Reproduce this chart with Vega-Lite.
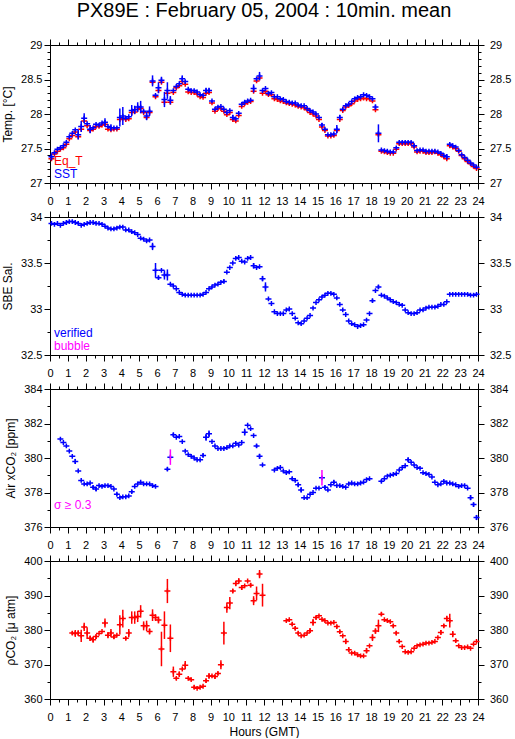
{
"$schema": "https://vega.github.io/schema/vega-lite/v6.json",
"padding": {"left": 0, "top": 1, "right": 0, "bottom": 0},
"bounds": "flush",
"spacing": 34,
"background": "#ffffff",
"resolve": {"scale": {"color": "independent"}, "legend": {"color": "independent"}},
"title": {"text": "PX89E : February 05, 2004 : 10min. mean", "fontSize": 20, "fontWeight": "normal", "font": "Liberation Sans", "color": "#000000", "anchor": "middle", "frame": "group", "offset": 16.7},
"config": {
  "font": "Liberation Sans",
  "view": {"stroke": "#000000", "strokeWidth": 1},
  "axis": {"domainColor": "#000000", "tickColor": "#000000", "labelColor": "#000000", "titleColor": "#000000", "grid": false, "labelFontSize": 11, "titleFontSize": 12, "titleFontWeight": "normal", "labelOverlap": false, "labelFlush": false, "labelBound": false, "domainWidth": 1, "tickWidth": 1, "labelFont": "Liberation Sans", "titleFont": "Liberation Sans"},
  "legend": {"labelFont": "Liberation Sans"}
},
"datasets": {
"p1": [
{"t":0.083,"s":27.38,"q":27.35,"e":0.05},{"t":0.25,"s":27.44,"q":27.42},{"t":0.417,"s":27.49,"q":27.46},{"t":0.583,"s":27.51,"q":27.49},{"t":0.75,"s":27.54,"q":27.51},{"t":0.917,"s":27.59,"q":27.56},
{"t":1.083,"s":27.67,"q":27.64},{"t":1.25,"s":27.72,"q":27.69},{"t":1.417,"s":27.77,"q":27.74},{"t":1.583,"s":27.7,"q":27.67,"e":0.07},{"t":1.75,"s":27.82,"q":27.78,"e":0.08},{"t":1.917,"s":27.94,"q":27.9,"e":0.07},
{"t":2.083,"s":27.86,"q":27.83},{"t":2.25,"s":27.78,"q":27.76,"e":0.06},{"t":2.417,"s":27.8,"q":27.78},{"t":2.583,"s":27.85,"q":27.82},{"t":2.75,"s":27.84,"q":27.82},{"t":2.917,"s":27.87,"q":27.84},
{"t":3.083,"s":27.88,"q":27.85,"e":0.06},{"t":3.25,"s":27.82,"q":27.78},{"t":3.417,"s":27.8,"q":27.77,"e":0.05},{"t":3.583,"s":27.8,"q":27.78},{"t":3.75,"s":27.8,"q":27.78},{"t":3.917,"s":27.95,"q":27.92,"e":0.13},
{"t":4.083,"s":27.97,"q":27.94,"e":0.13},{"t":4.25,"s":27.94,"q":27.92},{"t":4.417,"s":27.96,"q":27.93},{"t":4.583,"s":28.05,"q":28.02,"e":0.08},{"t":4.75,"s":28.06,"q":28.03,"e":0.06},{"t":4.917,"s":28.1,"q":28.07,"e":0.07},
{"t":5.083,"s":28.1,"q":28.08,"e":0.09},{"t":5.25,"s":28.04,"q":28.02},{"t":5.417,"s":27.97,"q":27.95,"e":0.06},{"t":5.583,"s":28.04,"q":28.02,"e":0.07},{"t":5.75,"s":28.48,"q":28.46,"e":0.08},{"t":5.917,"s":28.27,"q":28.25},
{"t":6.083,"s":28.38,"q":28.34,"e":0.08},{"t":6.25,"s":28.49,"q":28.46,"e":0.05},{"t":6.417,"s":28.21,"q":28.17,"e":0.11},{"t":6.583,"s":28.34,"q":28.3,"e":0.12},{"t":6.75,"s":28.2,"q":28.17,"e":0.06},{"t":6.917,"s":28.34,"q":28.31},
{"t":7.083,"s":28.4,"q":28.38},{"t":7.25,"s":28.44,"q":28.41},{"t":7.417,"s":28.51,"q":28.47,"e":0.05},{"t":7.583,"s":28.47,"q":28.43},{"t":7.75,"s":28.36,"q":28.32},{"t":7.917,"s":28.34,"q":28.31},
{"t":8.083,"s":28.34,"q":28.31},{"t":8.25,"s":28.32,"q":28.29},{"t":8.417,"s":28.28,"q":28.25},{"t":8.583,"s":28.27,"q":28.24},{"t":8.75,"s":28.34,"q":28.3,"e":0.04},{"t":8.917,"s":28.34,"q":28.31,"e":0.04},
{"t":9.083,"s":28.19,"q":28.16},{"t":9.25,"s":28.07,"q":28.04},{"t":9.417,"s":28.1,"q":28.08},{"t":9.583,"s":28.11,"q":28.08},{"t":9.75,"s":28.07,"q":28.04},{"t":9.917,"s":28.02,"q":27.99},
{"t":10.083,"s":28.05,"q":28.02},{"t":10.25,"s":27.95,"q":27.92,"e":0.04},{"t":10.417,"s":27.93,"q":27.9},{"t":10.583,"s":28.01,"q":27.98},{"t":10.75,"s":28.14,"q":28.11},{"t":10.917,"s":28.17,"q":28.15},
{"t":11.083,"s":28.19,"q":28.17},{"t":11.25,"s":28.2,"q":28.18},{"t":11.417,"s":28.37,"q":28.33,"e":0.06},{"t":11.583,"s":28.51,"q":28.48},{"t":11.75,"s":28.55,"q":28.52,"e":0.06},{"t":11.917,"s":28.34,"q":28.3},
{"t":12.083,"s":28.37,"q":28.33},{"t":12.25,"s":28.3,"q":28.28},{"t":12.417,"s":28.31,"q":28.28},{"t":12.583,"s":28.25,"q":28.22},{"t":12.75,"s":28.25,"q":28.21},{"t":12.917,"s":28.22,"q":28.19},
{"t":13.083,"s":28.21,"q":28.18},{"t":13.25,"s":28.18,"q":28.16},{"t":13.417,"s":28.17,"q":28.15},{"t":13.583,"s":28.16,"q":28.14},{"t":13.75,"s":28.16,"q":28.13},{"t":13.917,"s":28.13,"q":28.11},
{"t":14.083,"s":28.12,"q":28.1},{"t":14.25,"s":28.12,"q":28.09},{"t":14.417,"s":28.08,"q":28.06},{"t":14.583,"s":28.05,"q":28.02},{"t":14.75,"s":28.03,"q":28.0},{"t":14.917,"s":28.0,"q":27.97},
{"t":15.083,"s":27.95,"q":27.92},{"t":15.25,"s":27.84,"q":27.81,"e":0.03},{"t":15.417,"s":27.78,"q":27.76},{"t":15.583,"s":27.7,"q":27.68},{"t":15.75,"s":27.7,"q":27.68},{"t":15.917,"s":27.71,"q":27.69},
{"t":16.083,"s":27.78,"q":27.76,"e":0.06},{"t":16.25,"s":27.95,"q":27.92,"e":0.04},{"t":16.417,"s":28.07,"q":28.05},{"t":16.583,"s":28.12,"q":28.1},{"t":16.75,"s":28.14,"q":28.12},{"t":16.917,"s":28.18,"q":28.15},
{"t":17.083,"s":28.22,"q":28.19},{"t":17.25,"s":28.24,"q":28.21},{"t":17.417,"s":28.25,"q":28.22},{"t":17.583,"s":28.28,"q":28.23},{"t":17.75,"s":28.27,"q":28.22},{"t":17.917,"s":28.25,"q":28.22},
{"t":18.083,"s":28.22,"q":28.19},{"t":18.25,"s":28.1,"q":28.06,"e":0.04},{"t":18.417,"s":27.72,"q":27.7,"e":0.13},{"t":18.583,"s":27.48,"q":27.46},{"t":18.75,"s":27.47,"q":27.45},{"t":18.917,"s":27.46,"q":27.44},
{"t":19.083,"s":27.45,"q":27.43},{"t":19.25,"s":27.45,"q":27.43},{"t":19.417,"s":27.51,"q":27.49},{"t":19.583,"s":27.59,"q":27.57},{"t":19.75,"s":27.59,"q":27.57},{"t":19.917,"s":27.59,"q":27.57},
{"t":20.083,"s":27.59,"q":27.57},{"t":20.25,"s":27.59,"q":27.57},{"t":20.417,"s":27.54,"q":27.52,"e":0.03},{"t":20.583,"s":27.47,"q":27.45},{"t":20.75,"s":27.48,"q":27.46},{"t":20.917,"s":27.48,"q":27.46},
{"t":21.083,"s":27.46,"q":27.44},{"t":21.25,"s":27.46,"q":27.44},{"t":21.417,"s":27.46,"q":27.44},{"t":21.583,"s":27.46,"q":27.45},{"t":21.75,"s":27.45,"q":27.43},{"t":21.917,"s":27.43,"q":27.41},
{"t":22.083,"s":27.4,"q":27.38},{"t":22.25,"s":27.38,"q":27.35,"e":0.04},{"t":22.417,"s":27.56,"q":27.54},{"t":22.583,"s":27.54,"q":27.52},{"t":22.75,"s":27.52,"q":27.5},{"t":22.917,"s":27.47,"q":27.46},
{"t":23.083,"s":27.41,"q":27.4},{"t":23.25,"s":27.37,"q":27.35},{"t":23.417,"s":27.33,"q":27.31},{"t":23.583,"s":27.29,"q":27.28},{"t":23.75,"s":27.26,"q":27.24},{"t":23.917,"s":27.23,"q":27.21}
],
"p2": [
{"t":0.083,"v":33.93},{"t":0.25,"v":33.92},{"t":0.417,"v":33.93},{"t":0.583,"v":33.91},{"t":0.75,"v":33.93},{"t":0.917,"v":33.94},
{"t":1.083,"v":33.95},{"t":1.25,"v":33.95},{"t":1.417,"v":33.94},{"t":1.583,"v":33.93},{"t":1.75,"v":33.91},{"t":1.917,"v":33.92},
{"t":2.083,"v":33.93},{"t":2.25,"v":33.94},{"t":2.417,"v":33.94},{"t":2.583,"v":33.93},{"t":2.75,"v":33.93},{"t":2.917,"v":33.92},
{"t":3.083,"v":33.9},{"t":3.25,"v":33.88},{"t":3.417,"v":33.87},{"t":3.583,"v":33.87},{"t":3.75,"v":33.88},{"t":3.917,"v":33.89},
{"t":4.083,"v":33.89},{"t":4.25,"v":33.86},{"t":4.417,"v":33.86},{"t":4.583,"v":33.84},{"t":4.75,"v":33.83},{"t":4.917,"v":33.81},
{"t":5.083,"v":33.77},{"t":5.25,"v":33.76},{"t":5.417,"v":33.74},{"t":5.583,"v":33.75},{"t":5.75,"v":33.68,"e":0.04},{"t":5.917,"v":33.42,"e":0.08},
{"t":6.083,"v":33.34,"e":0.02},{"t":6.25,"v":33.42},{"t":6.417,"v":33.37,"e":0.05},{"t":6.583,"v":33.37,"e":0.06},{"t":6.75,"v":33.27},{"t":6.917,"v":33.25},
{"t":7.083,"v":33.22},{"t":7.25,"v":33.18},{"t":7.417,"v":33.16},{"t":7.583,"v":33.15},{"t":7.75,"v":33.15},{"t":7.917,"v":33.15},
{"t":8.083,"v":33.15},{"t":8.25,"v":33.15},{"t":8.417,"v":33.15},{"t":8.583,"v":33.16},{"t":8.75,"v":33.18},{"t":8.917,"v":33.22},
{"t":9.083,"v":33.24},{"t":9.25,"v":33.26},{"t":9.417,"v":33.27},{"t":9.583,"v":33.29},{"t":9.75,"v":33.3,"e":0.02},{"t":9.917,"v":33.4},
{"t":10.083,"v":33.45},{"t":10.25,"v":33.5},{"t":10.417,"v":33.55},{"t":10.583,"v":33.56},{"t":10.75,"v":33.52},{"t":10.917,"v":33.51},
{"t":11.083,"v":33.55},{"t":11.25,"v":33.56},{"t":11.417,"v":33.47,"e":0.03},{"t":11.583,"v":33.45},{"t":11.75,"v":33.46},{"t":11.917,"v":33.33,"e":0.03},
{"t":12.083,"v":33.24,"e":0.05},{"t":12.25,"v":33.11},{"t":12.417,"v":33.06},{"t":12.583,"v":32.97},{"t":12.75,"v":32.95},{"t":12.917,"v":32.95},
{"t":13.083,"v":32.95},{"t":13.25,"v":32.99},{"t":13.417,"v":33.0},{"t":13.583,"v":32.95},{"t":13.75,"v":32.9},{"t":13.917,"v":32.85},
{"t":14.083,"v":32.84},{"t":14.25,"v":32.87},{"t":14.417,"v":32.9},{"t":14.583,"v":32.93},{"t":14.75,"v":33.01},{"t":14.917,"v":33.07},
{"t":15.083,"v":33.1},{"t":15.25,"v":33.13},{"t":15.417,"v":33.15},{"t":15.583,"v":33.17},{"t":15.75,"v":33.17},{"t":15.917,"v":33.16},
{"t":16.083,"v":33.12},{"t":16.25,"v":33.05},{"t":16.417,"v":32.99},{"t":16.583,"v":32.94},{"t":16.75,"v":32.87},{"t":16.917,"v":32.84},
{"t":17.083,"v":32.83},{"t":17.25,"v":32.81},{"t":17.417,"v":32.82},{"t":17.583,"v":32.83},{"t":17.75,"v":32.88},{"t":17.917,"v":32.95},
{"t":18.083,"v":33.09,"e":0.02},{"t":18.25,"v":33.2},{"t":18.417,"v":33.24,"e":0.02},{"t":18.583,"v":33.15},{"t":18.75,"v":33.14},{"t":18.917,"v":33.12},
{"t":19.083,"v":33.1},{"t":19.25,"v":33.08},{"t":19.417,"v":33.07},{"t":19.583,"v":33.05},{"t":19.75,"v":33.04},{"t":19.917,"v":32.99},
{"t":20.083,"v":32.96},{"t":20.25,"v":32.95},{"t":20.417,"v":32.95},{"t":20.583,"v":32.96},{"t":20.75,"v":32.99},{"t":20.917,"v":32.99},
{"t":21.083,"v":33.01},{"t":21.25,"v":33.02},{"t":21.417,"v":33.02},{"t":21.583,"v":33.02},{"t":21.75,"v":33.03},{"t":21.917,"v":33.05},
{"t":22.083,"v":33.05},{"t":22.25,"v":33.08},{"t":22.417,"v":33.16},{"t":22.583,"v":33.16},{"t":22.75,"v":33.16},{"t":22.917,"v":33.16},
{"t":23.083,"v":33.16},{"t":23.25,"v":33.16},{"t":23.417,"v":33.16},{"t":23.583,"v":33.15},{"t":23.75,"v":33.15},{"t":23.917,"v":33.16}
],
"p3": [
{"t":0.583,"v":381.1},{"t":0.75,"v":380.9},{"t":0.917,"v":380.7},
{"t":1.083,"v":380.4},{"t":1.25,"v":380.1},{"t":1.417,"v":379.8,"e":0.15},{"t":1.583,"v":379.25},{"t":1.75,"v":378.7},{"t":1.917,"v":378.5},
{"t":2.083,"v":378.5},{"t":2.25,"v":378.55},{"t":2.417,"v":378.3,"e":0.1},{"t":2.583,"v":378.2,"e":0.12},{"t":2.75,"v":378.4},{"t":2.917,"v":378.35},
{"t":3.083,"v":378.4},{"t":3.25,"v":378.4},{"t":3.417,"v":378.35},{"t":3.583,"v":378.2},{"t":3.75,"v":377.9,"e":0.08},{"t":3.917,"v":377.7},
{"t":4.083,"v":377.75},{"t":4.25,"v":377.75},{"t":4.417,"v":377.8},{"t":4.583,"v":378.05,"e":0.1},{"t":4.75,"v":378.35},{"t":4.917,"v":378.5},
{"t":5.083,"v":378.6},{"t":5.25,"v":378.5},{"t":5.417,"v":378.5},{"t":5.583,"v":378.5},{"t":5.75,"v":378.4},{"t":5.917,"v":378.35},
{"t":6.583,"v":379.35,"e":0.1},{"t":6.75,"v":380.05,"e":0.45,"f":1},{"t":6.917,"v":381.35,"e":0.1},
{"t":7.083,"v":381.2},{"t":7.25,"v":381.25},{"t":7.417,"v":380.95},{"t":7.583,"v":380.4},{"t":7.75,"v":380.2},{"t":7.917,"v":380.1},
{"t":8.083,"v":380.0},{"t":8.25,"v":379.9},{"t":8.417,"v":379.9},{"t":8.583,"v":380.15,"e":0.1},{"t":8.75,"v":381.2,"e":0.2},{"t":8.917,"v":381.4,"e":0.2},
{"t":9.083,"v":380.95},{"t":9.25,"v":380.7},{"t":9.417,"v":380.55},{"t":9.583,"v":380.55},{"t":9.75,"v":380.55},{"t":9.917,"v":380.6},
{"t":10.083,"v":380.7},{"t":10.25,"v":380.7},{"t":10.417,"v":380.85},{"t":10.583,"v":380.75},{"t":10.75,"v":380.9},{"t":10.917,"v":381.5,"e":0.2},
{"t":11.083,"v":381.9},{"t":11.25,"v":381.7},{"t":11.417,"v":381.3},{"t":11.583,"v":380.7,"e":0.1},{"t":11.75,"v":380.1,"e":0.15},{"t":11.917,"v":379.6},
{"t":12.583,"v":379.3},{"t":12.75,"v":379.4},{"t":12.917,"v":379.45},
{"t":13.083,"v":379.25},{"t":13.25,"v":379.15},{"t":13.417,"v":379.2},{"t":13.583,"v":378.8,"e":0.08},{"t":13.75,"v":378.7},{"t":13.917,"v":378.45,"e":0.1},
{"t":14.083,"v":378.15,"e":0.15},{"t":14.25,"v":377.7},{"t":14.417,"v":377.7},{"t":14.583,"v":377.9},{"t":14.75,"v":378.0},{"t":14.917,"v":378.25},
{"t":15.083,"v":378.25},{"t":15.25,"v":378.85,"e":0.45,"f":1},{"t":15.417,"v":378.3,"e":0.1},{"t":15.583,"v":378.15},{"t":15.75,"v":378.45},{"t":15.917,"v":378.6,"e":0.1},
{"t":16.083,"v":378.4},{"t":16.25,"v":378.4},{"t":16.417,"v":378.35},{"t":16.583,"v":378.3},{"t":16.75,"v":378.5},{"t":16.917,"v":378.55},
{"t":17.083,"v":378.5},{"t":17.25,"v":378.5},{"t":17.417,"v":378.55},{"t":17.583,"v":378.6},{"t":17.75,"v":378.75},{"t":17.917,"v":378.8},
{"t":18.583,"v":378.65,"e":0.08},{"t":18.75,"v":378.8},{"t":18.917,"v":378.95},
{"t":19.083,"v":379.0},{"t":19.25,"v":379.05},{"t":19.417,"v":379.1},{"t":19.583,"v":379.3},{"t":19.75,"v":379.45},{"t":19.917,"v":379.55},
{"t":20.083,"v":379.9,"e":0.12},{"t":20.25,"v":379.75},{"t":20.417,"v":379.6},{"t":20.583,"v":379.45},{"t":20.75,"v":379.4},{"t":20.917,"v":379.15},
{"t":21.083,"v":379.1},{"t":21.25,"v":379.05},{"t":21.417,"v":378.9},{"t":21.583,"v":378.6},{"t":21.75,"v":378.45},{"t":21.917,"v":378.5},
{"t":22.083,"v":378.65},{"t":22.25,"v":378.55},{"t":22.417,"v":378.55},{"t":22.583,"v":378.5},{"t":22.75,"v":378.45},{"t":22.917,"v":378.35},
{"t":23.083,"v":378.4},{"t":23.25,"v":378.4},{"t":23.417,"v":378.25},{"t":23.583,"v":377.7,"e":0.15},{"t":23.75,"v":377.3,"e":0.12},{"t":23.917,"v":376.55,"e":0.15}
],
"p4": [
{"t":1.25,"v":379.1,"e":0.5},{"t":1.417,"v":379.0,"e":1.0},{"t":1.583,"v":379.1,"e":0.8},{"t":1.75,"v":378.3,"e":1.8},{"t":1.917,"v":380.9,"e":1.2},
{"t":2.083,"v":379.1,"e":1.7},{"t":2.25,"v":377.6,"e":0.8},{"t":2.417,"v":377.2,"e":0.9},{"t":2.583,"v":378.1,"e":0.7},{"t":2.75,"v":379.0},{"t":2.917,"v":379.6},
{"t":3.083,"v":382.0,"e":1.3},{"t":3.25,"v":378.5,"e":0.9},{"t":3.417,"v":379.1,"e":1.2},{"t":3.583,"v":378.0,"e":0.6},{"t":3.75,"v":378.5},{"t":3.917,"v":381.5,"e":2.8},
{"t":4.083,"v":383.3,"e":2.6},{"t":4.25,"v":377.6,"e":0.4},{"t":4.417,"v":379.1,"e":1.2},{"t":4.583,"v":383.6,"e":1.8},{"t":4.75,"v":383.6,"e":1.8},{"t":4.917,"v":383.9,"e":1.6},
{"t":5.083,"v":385.4,"e":1.8},{"t":5.25,"v":381.2,"e":1.3},{"t":5.417,"v":381.2,"e":1.5},{"t":5.583,"v":379.6,"e":0.9},{"t":5.75,"v":384.3,"e":1.7},{"t":5.917,"v":383.6,"e":1.0},
{"t":6.083,"v":382.9,"e":1.0},{"t":6.25,"v":374.5,"e":5.0},{"t":6.417,"v":381.4,"e":4.0},{"t":6.583,"v":391.3,"e":3.5},{"t":6.75,"v":377.6,"e":4.0},{"t":6.917,"v":367.9,"e":1.5},
{"t":7.083,"v":366.0,"e":0.4},{"t":7.25,"v":367.2,"e":0.8},{"t":7.417,"v":368.7},{"t":7.583,"v":369.8,"e":1.2},{"t":7.75,"v":366.0},{"t":7.917,"v":365.6},
{"t":8.083,"v":363.4,"e":0.5},{"t":8.25,"v":363.1},{"t":8.417,"v":363.4},{"t":8.583,"v":363.7},{"t":8.75,"v":365.3,"e":0.6},{"t":8.917,"v":366.7,"e":0.8},
{"t":9.083,"v":366.7},{"t":9.25,"v":366.5,"e":0.6},{"t":9.417,"v":367.4,"e":0.5},{"t":9.583,"v":369.9,"e":1.3},{"t":9.75,"v":379.1,"e":3.3},{"t":9.917,"v":386.5,"e":1.5},
{"t":10.083,"v":387.8,"e":1.8},{"t":10.25,"v":391.3,"e":0.5},{"t":10.417,"v":393.5,"e":0.8},{"t":10.583,"v":394.2,"e":0.8},{"t":10.75,"v":392.3,"e":0.7},{"t":10.917,"v":392.8},
{"t":11.083,"v":394.2},{"t":11.25,"v":393.0,"e":0.6},{"t":11.417,"v":388.5,"e":1.3},{"t":11.583,"v":390.6,"e":2.0},{"t":11.75,"v":396.2,"e":1.2},{"t":11.917,"v":390.1,"e":3.3},
{"t":13.25,"v":382.7},{"t":13.417,"v":383.0},{"t":13.583,"v":381.7,"e":0.5},{"t":13.75,"v":380.5,"e":0.5},{"t":13.917,"v":379.1,"e":0.5},
{"t":14.083,"v":378.3},{"t":14.25,"v":378.5},{"t":14.417,"v":379.1},{"t":14.583,"v":379.8,"e":0.7},{"t":14.75,"v":382.2,"e":1.0},{"t":14.917,"v":383.6,"e":0.5},
{"t":15.083,"v":384.1},{"t":15.25,"v":383.1},{"t":15.417,"v":382.7},{"t":15.583,"v":382.0},{"t":15.75,"v":382.0},{"t":15.917,"v":382.2},
{"t":16.083,"v":381.0,"e":0.5},{"t":16.25,"v":379.5,"e":0.5},{"t":16.417,"v":378.3},{"t":16.583,"v":376.7,"e":0.8},{"t":16.75,"v":374.3,"e":0.7},{"t":16.917,"v":373.3},
{"t":17.083,"v":373.3},{"t":17.25,"v":372.8},{"t":17.417,"v":372.5},{"t":17.583,"v":372.5},{"t":17.75,"v":374.0,"e":0.8},{"t":17.917,"v":375.4},
{"t":18.083,"v":377.8,"e":1.0},{"t":18.25,"v":379.7,"e":0.8},{"t":18.417,"v":381.2,"e":1.8},{"t":18.583,"v":384.6,"e":0.5},{"t":18.75,"v":383.0},{"t":18.917,"v":382.7},
{"t":19.083,"v":382.4},{"t":19.25,"v":381.2,"e":0.5},{"t":19.417,"v":379.1,"e":0.6},{"t":19.583,"v":376.7,"e":0.5},{"t":19.75,"v":375.2},{"t":19.917,"v":373.7},
{"t":20.083,"v":373.5},{"t":20.25,"v":373.7},{"t":20.417,"v":374.7},{"t":20.583,"v":375.4},{"t":20.75,"v":375.7},{"t":20.917,"v":375.9},
{"t":21.083,"v":376.2},{"t":21.25,"v":376.2},{"t":21.417,"v":376.4},{"t":21.583,"v":376.7},{"t":21.75,"v":377.8},{"t":21.917,"v":379.3,"e":0.7},
{"t":22.083,"v":381.2,"e":0.5},{"t":22.25,"v":383.3,"e":0.8},{"t":22.417,"v":382.7,"e":2.0},{"t":22.583,"v":378.8,"e":0.9},{"t":22.75,"v":376.9,"e":0.5},{"t":22.917,"v":375.4},
{"t":23.083,"v":374.9},{"t":23.25,"v":374.9},{"t":23.417,"v":375.1},{"t":23.583,"v":374.7},{"t":23.75,"v":375.9},{"t":23.917,"v":376.7}
]
},
"vconcat": [
{
 "width": 428, "height": 138,
 "data": {"name": "p1"},
 "resolve": {"axis": {"x": "independent", "y": "independent"}},
 "layer": [
  {"mark": {"type": "point", "shape": "M-1,0H1M0,-0.8V0.8", "size": 36, "filled": false, "strokeWidth": 1.5, "opacity": 1},
   "encoding": {
    "x": {"field": "t", "type": "quantitative", "scale": {"domain": [0, 24], "nice": false, "zero": false},
      "axis": {"orient": "bottom", "values": [0,0.5,1,1.5,2,2.5,3,3.5,4,4.5,5,5.5,6,6.5,7,7.5,8,8.5,9,9.5,10,10.5,11,11.5,12,12.5,13,13.5,14,14.5,15,15.5,16,16.5,17,17.5,18,18.5,19,19.5,20,20.5,21,21.5,22,22.5,23,23.5,24], "tickSize": {"condition": {"test": "datum.value % 1 === 0", "value": 6}, "value": 3}, "labelExpr": "datum.value % 1 === 0 ? datum.label : ''", "format": "~g", "labelPadding": 6.5, "title": null}},
    "y": {"field": "q", "type": "quantitative", "scale": {"domain": [27, 29], "nice": false, "zero": false},
      "axis": {"orient": "left", "values": [27,27.1,27.2,27.3,27.4,27.5,27.6,27.7,27.8,27.9,28,28.1,28.2,28.3,28.4,28.5,28.6,28.7,28.8,28.9,29], "tickSize": {"condition": {"test": "(datum.value*2) % 1 === 0", "value": 6}, "value": 3}, "labelExpr": "(datum.value*2) % 1 === 0 ? datum.label : ''", "format": "~g", "labelPadding": 2, "title": "Temp. [°C]", "titlePadding": 6.5}},
    "color": {"datum": "Eq_T", "scale": {"domain": ["Eq_T", "SST"], "range": ["#ff0000", "#0000ff"]},
      "legend": {"orient": "bottom-left", "offset": 3.5, "title": null, "padding": 0, "symbolSize": 0.01, "symbolStrokeWidth": 0.01, "symbolOpacity": 0, "labelOffset": -12, "labelFontSize": 12, "rowPadding": 1, "labelColor": {"expr": "datum.label === 'SST' ? '#0000ff' : '#ff0000'"}}}
   }},
  {"mark": {"type": "point", "shape": "M-1,0H1M0,-0.8V0.8", "size": 36, "filled": false, "strokeWidth": 1.5, "opacity": 1},
   "encoding": {
    "x": {"field": "t", "type": "quantitative", "scale": {"domain": [0, 24], "nice": false, "zero": false},
      "axis": {"orient": "top", "values": [0,0.5,1,1.5,2,2.5,3,3.5,4,4.5,5,5.5,6,6.5,7,7.5,8,8.5,9,9.5,10,10.5,11,11.5,12,12.5,13,13.5,14,14.5,15,15.5,16,16.5,17,17.5,18,18.5,19,19.5,20,20.5,21,21.5,22,22.5,23,23.5,24], "tickSize": {"condition": {"test": "datum.value % 1 === 0", "value": 6}, "value": 3}, "labels": false, "title": null}},
    "y": {"field": "s", "type": "quantitative", "scale": {"domain": [27, 29], "nice": false, "zero": false},
      "axis": {"orient": "right", "values": [27,27.1,27.2,27.3,27.4,27.5,27.6,27.7,27.8,27.9,28,28.1,28.2,28.3,28.4,28.5,28.6,28.7,28.8,28.9,29], "tickSize": {"condition": {"test": "(datum.value*2) % 1 === 0", "value": 6}, "value": 3}, "labelExpr": "(datum.value*2) % 1 === 0 ? datum.label : ''", "format": "~g", "labelPadding": 5.5, "title": null}},
    "color": {"datum": "SST"}
   }},
  {"transform": [{"filter": "datum.e > 0"}],
   "mark": {"type": "errorbar", "color": "#0000ff", "thickness": 1.5},
   "encoding": {
    "x": {"field": "t", "type": "quantitative", "scale": {"domain": [0, 24], "nice": false, "zero": false}, "axis": null},
    "y": {"field": "s", "type": "quantitative", "scale": {"domain": [27, 29], "nice": false, "zero": false}, "axis": null},
    "yError": {"field": "e"}
   }}
 ]
},
{
 "width": 428, "height": 138,
 "data": {"name": "p2"},
 "resolve": {"axis": {"x": "independent", "y": "independent"}},
 "layer": [
  {"mark": {"type": "point", "shape": "M-1,0H1M0,-0.8V0.8", "size": 36, "filled": false, "strokeWidth": 1.5, "opacity": 1},
   "encoding": {
    "x": {"field": "t", "type": "quantitative", "scale": {"domain": [0, 24], "nice": false, "zero": false},
      "axis": {"orient": "bottom", "values": [0,0.5,1,1.5,2,2.5,3,3.5,4,4.5,5,5.5,6,6.5,7,7.5,8,8.5,9,9.5,10,10.5,11,11.5,12,12.5,13,13.5,14,14.5,15,15.5,16,16.5,17,17.5,18,18.5,19,19.5,20,20.5,21,21.5,22,22.5,23,23.5,24], "tickSize": {"condition": {"test": "datum.value % 1 === 0", "value": 6}, "value": 3}, "labelExpr": "datum.value % 1 === 0 ? datum.label : ''", "format": "~g", "labelPadding": 6.5, "title": null}},
    "y": {"field": "v", "type": "quantitative", "scale": {"domain": [32.5, 34], "nice": false, "zero": false},
      "axis": {"orient": "left", "values": [32.5,32.75,33,33.25,33.5,33.75,34], "tickSize": {"condition": {"test": "(datum.value*2) % 1 === 0", "value": 6}, "value": 3}, "labelExpr": "(datum.value*2) % 1 === 0 ? datum.label : ''", "format": "~g", "labelPadding": 2, "title": "SBE Sal.", "titlePadding": 6.5}},
    "color": {"datum": "verified", "scale": {"domain": ["verified", "bubble"], "range": ["#0000ff", "#ff00ff"]},
      "legend": {"orient": "bottom-left", "offset": 3.5, "title": null, "padding": 0, "symbolSize": 0.01, "symbolStrokeWidth": 0.01, "symbolOpacity": 0, "labelOffset": -12, "labelFontSize": 12, "rowPadding": 1, "labelColor": {"expr": "datum.label === 'verified' ? '#0000ff' : '#ff00ff'"}}}
   }},
  {"transform": [{"filter": "datum.e > 0"}],
   "mark": {"type": "errorbar", "color": "#0000ff", "thickness": 1.5},
   "encoding": {
    "x": {"field": "t", "type": "quantitative", "scale": {"domain": [0, 24], "nice": false, "zero": false},
      "axis": {"orient": "top", "values": [0,0.5,1,1.5,2,2.5,3,3.5,4,4.5,5,5.5,6,6.5,7,7.5,8,8.5,9,9.5,10,10.5,11,11.5,12,12.5,13,13.5,14,14.5,15,15.5,16,16.5,17,17.5,18,18.5,19,19.5,20,20.5,21,21.5,22,22.5,23,23.5,24], "tickSize": {"condition": {"test": "datum.value % 1 === 0", "value": 6}, "value": 3}, "labels": false, "title": null}},
    "y": {"field": "v", "type": "quantitative", "scale": {"domain": [32.5, 34], "nice": false, "zero": false},
      "axis": {"orient": "right", "values": [32.5,32.75,33,33.25,33.5,33.75,34], "tickSize": {"condition": {"test": "(datum.value*2) % 1 === 0", "value": 6}, "value": 3}, "labelExpr": "(datum.value*2) % 1 === 0 ? datum.label : ''", "format": "~g", "labelPadding": 5.5, "title": null}},
    "yError": {"field": "e"}
   }}
 ]
},
{
 "width": 428, "height": 138,
 "data": {"name": "p3"},
 "resolve": {"axis": {"x": "independent", "y": "independent"}},
 "layer": [
  {"mark": {"type": "point", "shape": "M-1,0H1M0,-0.8V0.8", "size": 36, "filled": false, "strokeWidth": 1.5, "opacity": 1, "color": "#0000ff"},
   "encoding": {
    "x": {"field": "t", "type": "quantitative", "scale": {"domain": [0, 24], "nice": false, "zero": false},
      "axis": {"orient": "bottom", "values": [0,0.5,1,1.5,2,2.5,3,3.5,4,4.5,5,5.5,6,6.5,7,7.5,8,8.5,9,9.5,10,10.5,11,11.5,12,12.5,13,13.5,14,14.5,15,15.5,16,16.5,17,17.5,18,18.5,19,19.5,20,20.5,21,21.5,22,22.5,23,23.5,24], "tickSize": {"condition": {"test": "datum.value % 1 === 0", "value": 6}, "value": 3}, "labelExpr": "datum.value % 1 === 0 ? datum.label : ''", "format": "~g", "labelPadding": 6.5, "title": null}},
    "y": {"field": "v", "type": "quantitative", "scale": {"domain": [376, 384], "nice": false, "zero": false},
      "axis": {"orient": "left", "values": [376,377,378,379,380,381,382,383,384], "tickSize": {"condition": {"test": "datum.value % 2 === 0", "value": 6}, "value": 3}, "labelExpr": "datum.value % 2 === 0 ? datum.label : ''", "format": "~g", "labelPadding": 2, "title": "Air xCO₂ [ppm]", "titlePadding": 6.5}}
   }},
  {"transform": [{"filter": "datum.e > 0 && datum.f !== 1"}],
   "mark": {"type": "errorbar", "color": "#0000ff", "thickness": 1.5},
   "encoding": {
    "x": {"field": "t", "type": "quantitative", "scale": {"domain": [0, 24], "nice": false, "zero": false},
      "axis": {"orient": "top", "values": [0,0.5,1,1.5,2,2.5,3,3.5,4,4.5,5,5.5,6,6.5,7,7.5,8,8.5,9,9.5,10,10.5,11,11.5,12,12.5,13,13.5,14,14.5,15,15.5,16,16.5,17,17.5,18,18.5,19,19.5,20,20.5,21,21.5,22,22.5,23,23.5,24], "tickSize": {"condition": {"test": "datum.value % 1 === 0", "value": 6}, "value": 3}, "labels": false, "title": null}},
    "y": {"field": "v", "type": "quantitative", "scale": {"domain": [376, 384], "nice": false, "zero": false},
      "axis": {"orient": "right", "values": [376,377,378,379,380,381,382,383,384], "tickSize": {"condition": {"test": "datum.value % 2 === 0", "value": 6}, "value": 3}, "labelExpr": "datum.value % 2 === 0 ? datum.label : ''", "format": "~g", "labelPadding": 5.5, "title": null}},
    "yError": {"field": "e"}
   }},
  {"transform": [{"filter": "datum.f === 1"}],
   "mark": {"type": "errorbar", "thickness": 1.5},
   "encoding": {
    "x": {"field": "t", "type": "quantitative", "scale": {"domain": [0, 24], "nice": false, "zero": false}, "axis": null},
    "y": {"field": "v", "type": "quantitative", "scale": {"domain": [376, 384], "nice": false, "zero": false}, "axis": null},
    "yError": {"field": "e"},
    "color": {"datum": "σ ≥ 0.3", "scale": {"domain": ["σ ≥ 0.3", " "], "range": ["#ff00ff", "#ff00ff"]},
      "legend": {"orient": "bottom-left", "offset": 3.5, "title": null, "padding": 0, "symbolSize": 0.01, "symbolStrokeWidth": 0.01, "symbolOpacity": 0, "labelOffset": -12, "labelFontSize": 12, "rowPadding": 1, "labelColor": "#ff00ff"}}
   }}
 ]
},
{
 "width": 428, "height": 138,
 "data": {"name": "p4"},
 "resolve": {"axis": {"x": "independent", "y": "independent"}},
 "layer": [
  {"mark": {"type": "point", "shape": "M-1,0H1M0,-0.8V0.8", "size": 36, "filled": false, "strokeWidth": 1.5, "opacity": 1, "color": "#ff0000"},
   "encoding": {
    "x": {"field": "t", "type": "quantitative", "scale": {"domain": [0, 24], "nice": false, "zero": false},
      "axis": {"orient": "bottom", "values": [0,0.5,1,1.5,2,2.5,3,3.5,4,4.5,5,5.5,6,6.5,7,7.5,8,8.5,9,9.5,10,10.5,11,11.5,12,12.5,13,13.5,14,14.5,15,15.5,16,16.5,17,17.5,18,18.5,19,19.5,20,20.5,21,21.5,22,22.5,23,23.5,24], "tickSize": {"condition": {"test": "datum.value % 1 === 0", "value": 6}, "value": 3}, "labelExpr": "datum.value % 1 === 0 ? datum.label : ''", "format": "~g", "labelPadding": 6.5, "title": "Hours (GMT)", "titlePadding": 4}},
    "y": {"field": "v", "type": "quantitative", "scale": {"domain": [360, 400], "nice": false, "zero": false},
      "axis": {"orient": "left", "values": [360,365,370,375,380,385,390,395,400], "tickSize": {"condition": {"test": "datum.value % 10 === 0", "value": 6}, "value": 3}, "labelExpr": "datum.value % 10 === 0 ? datum.label : ''", "format": "~g", "labelPadding": 2, "title": "ρCO₂ [μ atm]", "titlePadding": 6.5}}
   }},
  {"transform": [{"filter": "datum.e > 0"}],
   "mark": {"type": "errorbar", "color": "#ff0000", "thickness": 1.5},
   "encoding": {
    "x": {"field": "t", "type": "quantitative", "scale": {"domain": [0, 24], "nice": false, "zero": false},
      "axis": {"orient": "top", "values": [0,0.5,1,1.5,2,2.5,3,3.5,4,4.5,5,5.5,6,6.5,7,7.5,8,8.5,9,9.5,10,10.5,11,11.5,12,12.5,13,13.5,14,14.5,15,15.5,16,16.5,17,17.5,18,18.5,19,19.5,20,20.5,21,21.5,22,22.5,23,23.5,24], "tickSize": {"condition": {"test": "datum.value % 1 === 0", "value": 6}, "value": 3}, "labels": false, "title": null}},
    "y": {"field": "v", "type": "quantitative", "scale": {"domain": [360, 400], "nice": false, "zero": false},
      "axis": {"orient": "right", "values": [360,365,370,375,380,385,390,395,400], "tickSize": {"condition": {"test": "datum.value % 10 === 0", "value": 6}, "value": 3}, "labelExpr": "datum.value % 10 === 0 ? datum.label : ''", "format": "~g", "labelPadding": 5.5, "title": null}},
    "yError": {"field": "e"}
   }}
 ]
}
]
}
